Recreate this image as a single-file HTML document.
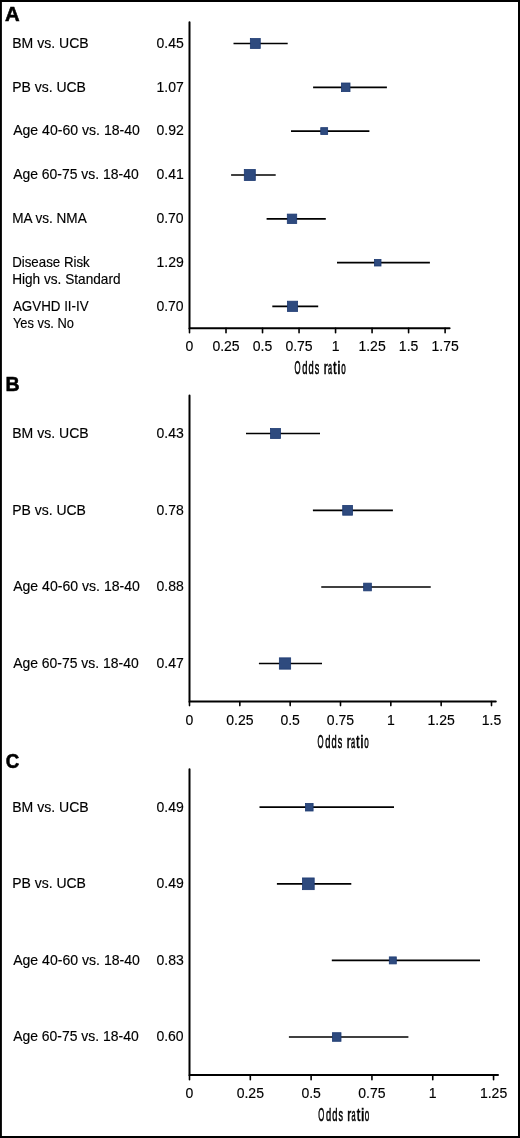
<!DOCTYPE html><html><head><meta charset="utf-8"><title>Forest plots of odds ratios</title><style>html,body{margin:0;padding:0;background:#fff}svg{display:block;will-change:transform}text{font-family:"Liberation Sans",sans-serif;fill:#000}.l,.n{font-size:14.0px;stroke:#000;stroke-width:0.15px}.p{font-weight:bold;stroke:#000;stroke-width:0.6px}.o{font-size:17.6px;font-weight:normal;stroke:#000;stroke-width:0.6px;vector-effect:non-scaling-stroke}.ax{fill:none;stroke:#000;stroke-width:2;stroke-linecap:round}.tk{stroke:#000;stroke-width:1.6;stroke-linecap:round}.ci{stroke:#000;stroke-width:1.7}.sq{fill:#2e4a7e;stroke:#1d3a72;stroke-width:0.8}</style></head><body><svg width="520" height="1138" viewBox="0 0 520 1138">
<rect width="520" height="1138" fill="#fff"/>
<path d="M0 0H520V1.9H0ZM0 0H1.9V1138H0ZM518 0H520V1138H518ZM0 1136H520V1138H0Z"/>
<text class="p" style="font-size:21.1px" transform="translate(5.00 21.00) scale(0.9607 1.0000)">A</text>
<path class="ax" d="M189.5 22.2V328.2H449.6"/>
<path class="tk" d="M189.50 328.2V332.8"/>
<text class="n" x="185.61" y="351.00">0</text>
<path class="tk" d="M226.01 328.2V332.8"/>
<text class="n" x="212.39" y="351.00">0.25</text>
<path class="tk" d="M262.53 328.2V332.8"/>
<text class="n" x="252.80" y="351.00">0.5</text>
<path class="tk" d="M299.05 328.2V332.8"/>
<text class="n" x="285.42" y="351.00">0.75</text>
<path class="tk" d="M335.56 328.2V332.8"/>
<text class="n" x="331.67" y="351.00">1</text>
<path class="tk" d="M372.07 328.2V332.8"/>
<text class="n" x="358.45" y="351.00">1.25</text>
<path class="tk" d="M408.59 328.2V332.8"/>
<text class="n" x="398.86" y="351.00">1.5</text>
<path class="tk" d="M445.11 328.2V332.8"/>
<text class="n" x="431.48" y="351.00">1.75</text>
<text class="o" transform="translate(320.25 374.30)"><tspan x="-25.82" textLength="6.04" lengthAdjust="spacingAndGlyphs">O</tspan><tspan x="-18.04" textLength="5.19" lengthAdjust="spacingAndGlyphs">d</tspan><tspan x="-11.74" textLength="5.19" lengthAdjust="spacingAndGlyphs">d</tspan><tspan x="-5.50" textLength="4.47" lengthAdjust="spacingAndGlyphs">s</tspan> <tspan x="3.40" textLength="4.00" lengthAdjust="spacingAndGlyphs">r</tspan><tspan x="7.64" textLength="4.11" lengthAdjust="spacingAndGlyphs">a</tspan><tspan x="12.85" textLength="3.59" lengthAdjust="spacingAndGlyphs">t</tspan><tspan x="17.11" textLength="3.29" lengthAdjust="spacingAndGlyphs">i</tspan><tspan x="20.91" textLength="4.48" lengthAdjust="spacingAndGlyphs">o</tspan></text>
<text class="l" transform="translate(12.22 48.00) scale(1.0042 1.0000)">BM vs. UCB</text>
<text class="n" x="156.46" y="48.00">0.45</text>
<path class="ci" d="M233.5 43.5H287.7"/>
<rect class="sq" x="250.35" y="38.55" width="9.90" height="9.90"/>
<text class="l" transform="translate(12.13 92.00) scale(0.9991 1.0000)">PB vs. UCB</text>
<text class="n" x="156.58" y="92.00">1.07</text>
<path class="ci" d="M313.1 87.3H386.9"/>
<rect class="sq" x="341.40" y="83.00" width="8.60" height="8.60"/>
<text class="l" transform="translate(13.15 135.00) scale(1.0067 1.0000)">Age 40-60 vs. 18-40</text>
<text class="n" x="156.58" y="135.00">0.92</text>
<path class="ci" d="M291.0 131.1H369.4"/>
<rect class="sq" x="320.75" y="127.65" width="6.90" height="6.90"/>
<text class="l" transform="translate(13.15 179.00) scale(0.9964 1.0000)">Age 60-75 vs. 18-40</text>
<text class="n" x="156.56" y="179.00">0.41</text>
<path class="ci" d="M231.1 175.0H275.7"/>
<rect class="sq" x="244.30" y="169.50" width="11.00" height="11.00"/>
<text class="l" transform="translate(12.16 223.00) scale(0.9693 1.0000)">MA vs. NMA</text>
<text class="n" x="156.42" y="223.00">0.70</text>
<path class="ci" d="M266.6 218.8H325.8"/>
<rect class="sq" x="287.30" y="214.10" width="9.40" height="9.40"/>
<text class="l" transform="translate(12.18 267.00) scale(0.9502 1.0000)">Disease Risk</text>
<text class="l" transform="translate(12.16 284.00) scale(0.9745 1.0000)">High vs. Standard</text>
<text class="n" x="156.54" y="267.00">1.29</text>
<path class="ci" d="M337.0 262.7H429.9"/>
<rect class="sq" x="374.40" y="259.40" width="6.60" height="6.60"/>
<text class="l" transform="translate(12.95 311.00) scale(0.9545 1.0000)">AGVHD II-IV</text>
<text class="l" transform="translate(12.89 328.00) scale(0.9200 1.0000)">Yes vs. No</text>
<text class="n" x="156.42" y="311.00">0.70</text>
<path class="ci" d="M272.3 306.3H318.2"/>
<rect class="sq" x="287.40" y="301.20" width="10.20" height="10.20"/>
<text class="p" style="font-size:20.6px" transform="translate(5.39 391.00) scale(0.9472 1.0000)">B</text>
<path class="ax" d="M189.5 395.6V701.5H495.8"/>
<path class="tk" d="M189.50 701.5V705.6"/>
<text class="n" x="185.61" y="725.00">0</text>
<path class="tk" d="M239.83 701.5V705.6"/>
<text class="n" x="226.21" y="725.00">0.25</text>
<path class="tk" d="M290.17 701.5V705.6"/>
<text class="n" x="280.43" y="725.00">0.5</text>
<path class="tk" d="M340.50 701.5V705.6"/>
<text class="n" x="326.87" y="725.00">0.75</text>
<path class="tk" d="M390.83 701.5V705.6"/>
<text class="n" x="386.94" y="725.00">1</text>
<path class="tk" d="M441.16 701.5V705.6"/>
<text class="n" x="427.54" y="725.00">1.25</text>
<path class="tk" d="M491.50 701.5V705.6"/>
<text class="n" x="481.76" y="725.00">1.5</text>
<text class="o" transform="translate(343.25 747.60)"><tspan x="-25.82" textLength="6.04" lengthAdjust="spacingAndGlyphs">O</tspan><tspan x="-18.04" textLength="5.19" lengthAdjust="spacingAndGlyphs">d</tspan><tspan x="-11.74" textLength="5.19" lengthAdjust="spacingAndGlyphs">d</tspan><tspan x="-5.50" textLength="4.47" lengthAdjust="spacingAndGlyphs">s</tspan> <tspan x="3.40" textLength="4.00" lengthAdjust="spacingAndGlyphs">r</tspan><tspan x="7.64" textLength="4.11" lengthAdjust="spacingAndGlyphs">a</tspan><tspan x="12.85" textLength="3.59" lengthAdjust="spacingAndGlyphs">t</tspan><tspan x="17.11" textLength="3.29" lengthAdjust="spacingAndGlyphs">i</tspan><tspan x="20.91" textLength="4.48" lengthAdjust="spacingAndGlyphs">o</tspan></text>
<text class="l" transform="translate(12.22 438.00) scale(1.0042 1.0000)">BM vs. UCB</text>
<text class="n" x="156.49" y="438.00">0.43</text>
<path class="ci" d="M246.0 433.5H320.0"/>
<rect class="sq" x="270.50" y="428.50" width="10.00" height="10.00"/>
<text class="l" transform="translate(12.13 515.00) scale(0.9991 1.0000)">PB vs. UCB</text>
<text class="n" x="156.49" y="515.00">0.78</text>
<path class="ci" d="M312.9 510.3H392.9"/>
<rect class="sq" x="342.70" y="505.40" width="9.80" height="9.80"/>
<text class="l" transform="translate(13.15 591.00) scale(1.0067 1.0000)">Age 40-60 vs. 18-40</text>
<text class="n" x="156.49" y="591.00">0.88</text>
<path class="ci" d="M321.25 587.0H430.75"/>
<rect class="sq" x="363.65" y="583.15" width="7.70" height="7.70"/>
<text class="l" transform="translate(13.15 668.00) scale(0.9964 1.0000)">Age 60-75 vs. 18-40</text>
<text class="n" x="156.58" y="668.00">0.47</text>
<path class="ci" d="M258.9 663.5H322.0"/>
<rect class="sq" x="279.35" y="657.85" width="11.30" height="11.30"/>
<text class="p" style="font-size:21.1px" transform="translate(5.73 768.00) scale(0.8844 1.0000)">C</text>
<path class="ax" d="M189.5 769.3V1075.1H498.0"/>
<path class="tk" d="M189.50 1075.1V1079.7"/>
<text class="n" x="185.61" y="1098.00">0</text>
<path class="tk" d="M250.31 1075.1V1079.7"/>
<text class="n" x="236.69" y="1098.00">0.25</text>
<path class="tk" d="M311.12 1075.1V1079.7"/>
<text class="n" x="301.39" y="1098.00">0.5</text>
<path class="tk" d="M371.94 1075.1V1079.7"/>
<text class="n" x="358.31" y="1098.00">0.75</text>
<path class="tk" d="M432.75 1075.1V1079.7"/>
<text class="n" x="428.86" y="1098.00">1</text>
<path class="tk" d="M493.56 1075.1V1079.7"/>
<text class="n" x="479.94" y="1098.00">1.25</text>
<text class="o" transform="translate(343.95 1120.90)"><tspan x="-25.82" textLength="6.04" lengthAdjust="spacingAndGlyphs">O</tspan><tspan x="-18.04" textLength="5.19" lengthAdjust="spacingAndGlyphs">d</tspan><tspan x="-11.74" textLength="5.19" lengthAdjust="spacingAndGlyphs">d</tspan><tspan x="-5.50" textLength="4.47" lengthAdjust="spacingAndGlyphs">s</tspan> <tspan x="3.40" textLength="4.00" lengthAdjust="spacingAndGlyphs">r</tspan><tspan x="7.64" textLength="4.11" lengthAdjust="spacingAndGlyphs">a</tspan><tspan x="12.85" textLength="3.59" lengthAdjust="spacingAndGlyphs">t</tspan><tspan x="17.11" textLength="3.29" lengthAdjust="spacingAndGlyphs">i</tspan><tspan x="20.91" textLength="4.48" lengthAdjust="spacingAndGlyphs">o</tspan></text>
<text class="l" transform="translate(12.22 812.00) scale(1.0042 1.0000)">BM vs. UCB</text>
<text class="n" x="156.54" y="812.00">0.49</text>
<path class="ci" d="M259.5 807.2H394.0"/>
<rect class="sq" x="305.50" y="803.40" width="7.60" height="7.60"/>
<text class="l" transform="translate(12.13 888.00) scale(0.9991 1.0000)">PB vs. UCB</text>
<text class="n" x="156.54" y="888.00">0.49</text>
<path class="ci" d="M276.9 883.8H351.3"/>
<rect class="sq" x="302.50" y="877.95" width="11.70" height="11.70"/>
<text class="l" transform="translate(13.15 965.00) scale(1.0067 1.0000)">Age 40-60 vs. 18-40</text>
<text class="n" x="156.49" y="965.00">0.83</text>
<path class="ci" d="M331.8 960.4H480.0"/>
<rect class="sq" x="389.30" y="956.90" width="7.00" height="7.00"/>
<text class="l" transform="translate(13.15 1041.00) scale(0.9964 1.0000)">Age 60-75 vs. 18-40</text>
<text class="n" x="156.42" y="1041.00">0.60</text>
<path class="ci" d="M288.9 1037.0H408.4"/>
<rect class="sq" x="332.40" y="1032.70" width="8.60" height="8.60"/>
</svg></body></html>
